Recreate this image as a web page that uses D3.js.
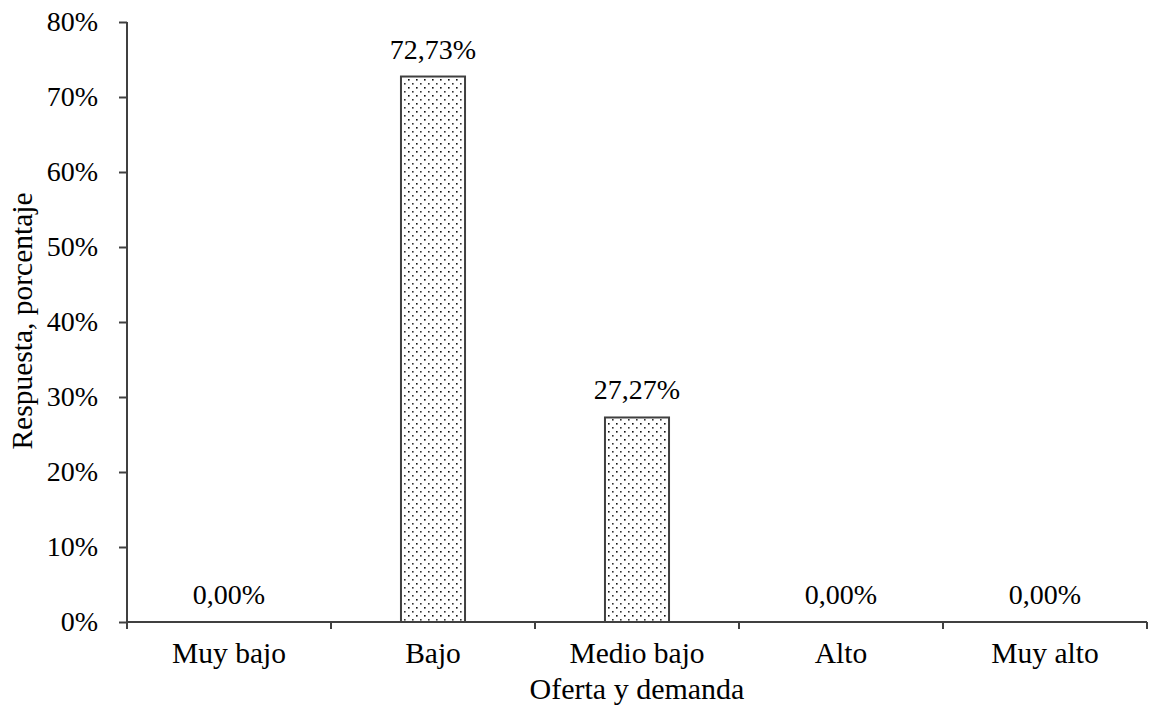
<!DOCTYPE html>
<html>
<head>
<meta charset="utf-8">
<script src="https://cdn.jsdelivr.net/npm/d3@7"></script>
<style>
body { margin: 0; background: #fff; }
text { font-family: "Liberation Serif", "Times New Roman", serif; fill: #000; }
</style>
</head>
<body>
<div id="figure"></div>
<script>
var categories = ["Muy bajo", "Bajo", "Medio bajo", "Alto", "Muy alto"];
var values = [0, 72.73, 27.27, 0, 0];
var valueLabels = ["0,00%", "72,73%", "27,27%", "0,00%", "0,00%"];
var yTicks = [0, 10, 20, 30, 40, 50, 60, 70, 80];

var w = 1149;
var h = 713;
var margin = { top: 22, right: 2, bottom: 91, left: 127 };
var chartWidth = w - margin.left - margin.right;
var chartHeight = h - margin.top - margin.bottom;
var fontSize = 28;
var labelSize = 29.5;

var svg = d3.select('#figure')
	.append('svg')
	.attr('width', w)
	.attr('height', h);

// dotted fill pattern
var pat = svg.append('defs')
	.append('pattern')
	.attr('id', 'dots')
	.attr('patternUnits', 'userSpaceOnUse')
	.attr('width', 8)
	.attr('height', 8);
pat.append('rect').attr('width', 8).attr('height', 8).attr('fill', '#fff');
pat.append('rect').attr('x', 1).attr('y', 1).attr('width', 1.6).attr('height', 1.6).attr('fill', '#111');
pat.append('rect').attr('x', 5).attr('y', 5).attr('width', 1.6).attr('height', 1.6).attr('fill', '#333');

var chart = svg.append('g')
	.attr('transform', 'translate(' + margin.left + ',' + margin.top + ')');

var xScale = d3.scaleBand()
	.domain(categories)
	.range([0, chartWidth]);

var yScale = d3.scaleLinear()
	.domain([0, 80])
	.range([chartHeight, 0]);

// y axis
var yAxis = d3.axisLeft(yScale)
	.tickValues(yTicks)
	.tickSize(8)
	.tickPadding(21)
	.tickFormat(function(d){ return d + '%'; });

var yG = chart.append('g').call(yAxis);
yG.selectAll('text').attr('font-size', fontSize);

// bars
chart.selectAll('rect.bar')
	.data(values)
	.enter()
	.append('rect')
	.classed('bar', true)
	.attr('x', function(d, i){
		return xScale(categories[i]) + xScale.bandwidth() * 0.343;
	})
	.attr('y', function(d){ return yScale(d); })
	.attr('width', xScale.bandwidth() * 0.314)
	.attr('height', function(d){ return chartHeight - yScale(d); })
	.attr('fill', 'url(#dots)')
	.attr('stroke', function(d){ return d > 0 ? '#404040' : 'none'; })
	.attr('stroke-width', 2);

// x axis
var xAxis = d3.axisBottom(xScale)
	.tickSize(0)
	.tickPadding(20);

var xG = chart.append('g')
	.attr('transform', 'translate(0,' + chartHeight + ')')
	.call(xAxis);
xG.selectAll('text').attr('font-size', labelSize);

// category boundary ticks
xG.selectAll('line.bound')
	.data(d3.range(categories.length + 1))
	.enter()
	.append('line')
	.classed('bound', true)
	.attr('x1', function(d){ return d * xScale.step(); })
	.attr('x2', function(d){ return d * xScale.step(); })
	.attr('y1', 0)
	.attr('y2', 7);

svg.selectAll('.domain, .tick line, line.bound')
	.attr('stroke', '#404040')
	.attr('stroke-width', 2);
xG.select('.domain').attr('d', 'M0,0H' + chartWidth);
yG.select('.domain').attr('d', 'M0,0V' + chartHeight);

// value labels
chart.append('g')
	.selectAll('text')
	.data(values)
	.enter()
	.append('text')
	.text(function(d, i){ return valueLabels[i]; })
	.attr('x', function(d, i){ return xScale(categories[i]) + xScale.bandwidth() / 2; })
	.attr('y', function(d){ return yScale(d) - 18; })
	.attr('font-size', fontSize)
	.attr('text-anchor', 'middle');

// axis titles
svg.append('text')
	.attr('x', margin.left + chartWidth / 2)
	.attr('y', 699)
	.attr('font-size', 30)
	.attr('text-anchor', 'middle')
	.text('Oferta y demanda');

svg.append('text')
	.attr('transform', 'translate(32,321) rotate(-90)')
	.attr('font-size', labelSize)
	.attr('text-anchor', 'middle')
	.text('Respuesta, porcentaje');
</script>
</body>
</html>
